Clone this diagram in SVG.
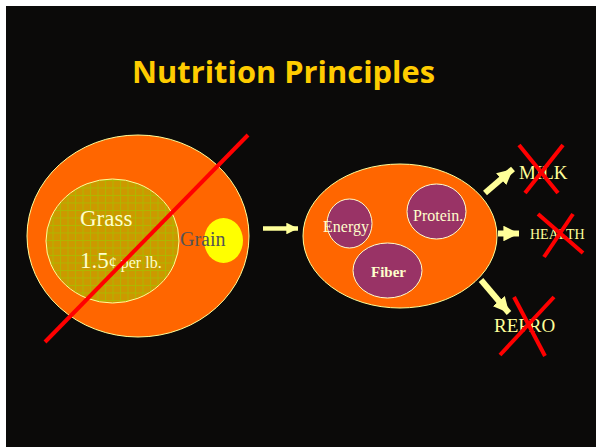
<svg xmlns="http://www.w3.org/2000/svg" width="596" height="447" viewBox="0 0 596 447">
<defs>
<style>
.bg{fill:#0b0a09}
.title{font-family:"Comic Sans MS","Open Sans",sans-serif;font-weight:bold;font-size:30px;fill:#ffcc00}
.ser{font-family:"Liberation Serif",serif}
.cream{fill:#ffffcc}
.lbl{fill:#ffff99}
.outer{fill:#ff6600;stroke:#ffff99;stroke-width:1}
.nut{fill:#993366;stroke:#ffffcc;stroke-width:1}
.arrow{stroke:#ffff99;fill:none;marker-end:url(#ah)}
.cross{stroke:#ff0000;stroke-width:4;stroke-linecap:butt}
</style>
<pattern id="grid" width="7.5" height="7.5" patternUnits="userSpaceOnUse">
<rect width="7.5" height="7.5" fill="#cc9900"/>
<path d="M0,0.5H7.5M0.5,0V7.5" stroke="#99cc00" stroke-opacity="0.6" stroke-width="1" fill="none"/>
</pattern>
<marker id="ah" viewBox="0 0 10 10" refX="10" refY="5" markerWidth="2.6" markerHeight="2.6" orient="auto" markerUnits="strokeWidth">
<path d="M0,0L10,5L0,10z" fill="#ffff99"/>
</marker>
</defs>
<rect x="0" y="0" width="596" height="447" fill="#ffffff"/>
<rect class="bg" x="6" y="6" width="590" height="441"/>
<text class="title" x="283.5" y="83" text-anchor="middle" textLength="303" lengthAdjust="spacingAndGlyphs">Nutrition Principles</text>

<g id="feed">
<ellipse class="outer" cx="138" cy="236" rx="111" ry="101"/>
<g id="grass">
<ellipse cx="112.5" cy="241" rx="66.5" ry="62" fill="url(#grid)" stroke="#ffff99" stroke-width="1"/>
<text class="ser cream" x="80" y="226" font-size="23">Grass</text>
<text class="ser cream" x="80" y="268" font-size="23">1.5<tspan font-size="16">¢ per lb.</tspan></text>
</g>
<g id="grain">
<ellipse cx="223.5" cy="240.5" rx="19.5" ry="22.5" fill="#ffff00"/>
<text class="ser" x="180" y="246" font-size="20" fill="#555555">Grain</text>
</g>
<line class="cross" x1="45" y1="342" x2="248" y2="135"/>
</g>

<g id="nutrients">
<ellipse class="outer" cx="400" cy="236" rx="97" ry="72"/>
<g id="energy">
<ellipse class="nut" cx="349.5" cy="223.5" rx="22.5" ry="24.5"/>
<text class="ser cream" x="323" y="232" font-size="16">Energy</text>
</g>
<g id="protein">
<ellipse class="nut" cx="436.5" cy="211.5" rx="29.5" ry="27.5"/>
<text class="ser cream" x="413" y="221" font-size="16">Protein.</text>
</g>
<g id="fiber">
<ellipse class="nut" cx="387.5" cy="270.5" rx="34.5" ry="27.5"/>
<text class="ser cream" x="371" y="277" font-size="15" font-weight="bold">Fiber</text>
</g>
</g>

<g id="milk">
<text class="ser lbl" x="519" y="179" font-size="19">MILK</text>
<line class="cross" x1="519" y1="145" x2="558" y2="193"/>
<line class="cross" x1="563" y1="145" x2="525" y2="193"/>
</g>
<g id="health">
<text class="ser lbl" x="530" y="239" font-size="14">HEALTH</text>
<line class="cross" x1="538" y1="214" x2="583" y2="253"/>
<line class="cross" x1="573" y1="214" x2="544" y2="257"/>
</g>
<g id="repro">
<text class="ser lbl" x="494" y="332" font-size="19">REPRO</text>
<line class="cross" x1="514" y1="297" x2="545" y2="356"/>
<line class="cross" x1="554" y1="297" x2="500" y2="355"/>
</g>

<g id="connectors">
<line class="arrow" stroke-width="4.5" x1="263" y1="228.5" x2="298" y2="228.5"/>
<line class="arrow" stroke-width="6" x1="485" y1="193" x2="513" y2="169"/>
<line class="arrow" stroke-width="6" x1="498" y1="233.5" x2="519" y2="233.5"/>
<line class="arrow" stroke-width="6" x1="481" y1="280" x2="509" y2="313"/>
</g>
</svg>
